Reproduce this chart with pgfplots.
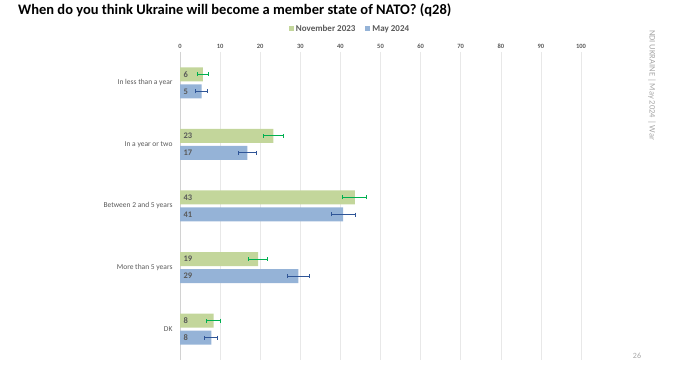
\documentclass[border=0pt]{standalone}
\usepackage{pgfplots}
\pgfplotsset{compat=1.18}
\usepackage{pgfplotstable}
\usepackage{fontspec}
\setmainfont{Carlito}
\definecolor{gbar}{HTML}{C3D69B}
\definecolor{bbar}{HTML}{95B3D7}
\definecolor{gerr}{HTML}{00B050}
\definecolor{berr}{HTML}{2F5597}
\definecolor{txt}{HTML}{595959}
\pgfplotstableread{
y x ex lab
0 5.7 1.3 6
1 23.3 2.5 23
2 43.6 3.0 43
3 19.5 2.4 19
4 8.4 1.7 8
}\nov
\pgfplotstableread{
y x ex lab
0 5.4 1.45 5
1 16.8 2.3 17
2 40.7 3.0 41
3 29.5 2.75 29
4 7.8 1.6 8
}\may
\begin{document}
\begin{tikzpicture}
\path[use as bounding box] (0pt,0pt) rectangle (690pt,371pt);
\node[anchor=west, inner sep=0pt, font=\bfseries\fontsize{14.5}{17}\selectfont] at (18pt,361pt) {When do you think Ukraine will become a member state of NATO? (q28)};
\node[rotate=-90, anchor=west, inner sep=0pt, text=gray!70, font=\fontsize{8.5}{10}\selectfont] at (652pt,341pt) {NDI UKRAINE | May 2024 | War};
\node[inner sep=0pt, text=gray!70, font=\fontsize{8}{9}\selectfont] at (637pt,15pt) {26};
\begin{axis}[
  at={(180pt,11pt)}, anchor=south west, scale only axis,
  width=401pt, height=308pt,
  xbar, bar width=14pt,
  xmin=0, xmax=100, ymin=-0.5, ymax=4.5, y dir=reverse,
  ytick={0,...,4},
  yticklabels={In less than a year, In a year or two, Between 2 and 5 years, More than 5 years, DK},
  xtick={0,10,...,100},
  /pgf/number format/assume math mode=true,
  axis x line*=top, axis y line*=left,
  x axis line style={draw=none}, y axis line style={draw=gray!35},
  major tick length=0pt,
  xmajorgrids, grid style={gray!18, line width=0.6pt},
  xticklabel style={font=\bfseries\fontsize{6.5}{7}\selectfont, text=txt},
  yticklabel style={font=\fontsize{7.5}{8}\selectfont, text=txt, xshift=-4pt},
  point meta=explicit symbolic,
  nodes near coords,
  visualization depends on={rawx \as \rx},
  nodes near coords style={anchor=west, xshift={-\rx*4.01pt}, font=\bfseries\fontsize{8.5}{9}\selectfont, text=txt},
  legend columns=2,
  legend style={at={(0.424,1)}, anchor=south, yshift=15pt, draw=none, fill=none,
     font=\bfseries\fontsize{9}{10}\selectfont, text=txt,
     /tikz/every even column/.append style={column sep=8pt}},
  legend image code/.code={\fill[#1] (0pt,-2.5pt) rectangle (5pt,2.5pt);},
]
\addplot[fill=gbar, draw=none, bar shift=8.5pt,
  error bars/.cd, x dir=both, x explicit,
  error bar style={draw=gerr, line width=0.8pt},
  error mark options={draw=gerr, mark size=2pt, line width=0.8pt, rotate=90}]
  table[x=x, y=y, x error=ex, meta=lab] {\nov};
\addlegendentry{November 2023}
\addplot[fill=bbar, draw=none, bar shift=-8.5pt,
  error bars/.cd, x dir=both, x explicit,
  error bar style={draw=berr, line width=0.8pt},
  error mark options={draw=berr, mark size=2pt, line width=0.8pt, rotate=90}]
  table[x=x, y=y, x error=ex, meta=lab] {\may};
\addlegendentry{May 2024}
\end{axis}
\end{tikzpicture}
\end{document}
